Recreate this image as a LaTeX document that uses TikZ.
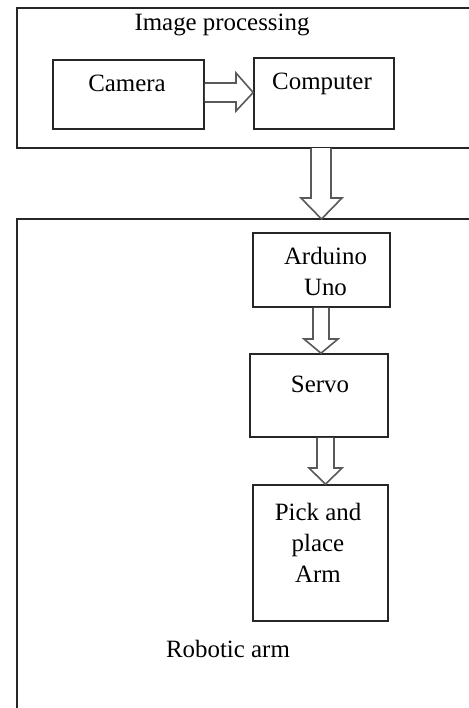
\documentclass[tikz,border=0pt]{standalone}
\usepackage{fontspec}
\setmainfont{Liberation Serif}
\begin{document}
\begin{tikzpicture}[x=0.5pt,y=-0.5pt,
  box/.style={draw=black!85, line width=0.8pt},
  hollow/.style={draw=black!65, line width=0.8pt, fill=white, line join=miter},
  lbl/.style={font=\fontsize{12.45}{15.5}\selectfont, inner sep=0pt, anchor=base, align=center}]
\clip (0,0) rectangle (469,708);
\fill[white] (0,0) rectangle (469,708);
% outer regions
\draw[box] (480,8) -- (17,8) -- (17,148) -- (480,148);
\coordinate (imgtop) at (321.5,148);
\draw[box] (480,219) -- (17,219) -- (17,720);
\coordinate (robtop) at (321.5,219);
\node[lbl] (imgproc) at (222,30) {Image processing};
\node[lbl] (robarm) at (228,657) {Robotic arm};
% boxes
\node[box, inner sep=0pt, minimum width=75.5pt, minimum height=34.5pt] (cam) at (128.5,94.5) {};
\node[box, inner sep=0pt, minimum width=70pt, minimum height=35.5pt] (comp) at (324,93.5) {};
\node[box, inner sep=0pt, minimum width=68.5pt, minimum height=37pt] (ard) at (321.5,270) {};
\node[box, inner sep=0pt, minimum width=69pt, minimum height=41.5pt] (servo) at (319,395.5) {};
\node[box, inner sep=0pt, minimum width=67.5pt, minimum height=68pt] (pick) at (320.5,553) {};
% texts (anchor=base is the baseline of the last line)
\node[lbl] (camt) at (127,91) {Camera};
\node[lbl] (compt) at (322,89) {Computer};
\node[lbl] (ardt) at (325.5,295.5) {Arduino\\Uno};
\node[lbl] (servot) at (320,392.7) {Servo};
\node[lbl] (pickt) at (318,582.7) {Pick and\\place\\Arm};
% hollow arrows
\draw[hollow] (cam.east |- 0,83) -- (236,83) -- (236,73) -- (comp.west |- 0,92.5) -- (236,111) -- (236,102) -- (cam.east |- 0,102);
\draw[hollow] (311,0 |- imgtop) -- (311,198) -- (301,198) -- (robtop) -- (342,198) -- (331,198) -- (331,0 |- imgtop);
\draw[hollow] (313,0 |- ard.south) -- (313,339) -- (304,339) -- (321,0 |- servo.north) -- (338,339) -- (329,339) -- (329,0 |- ard.south);
\draw[hollow] (317,0 |- servo.south) -- (317,468) -- (309,468) -- (325.5,0 |- pick.north) -- (342,468) -- (334,468) -- (334,0 |- servo.south);
\end{tikzpicture}
\end{document}
